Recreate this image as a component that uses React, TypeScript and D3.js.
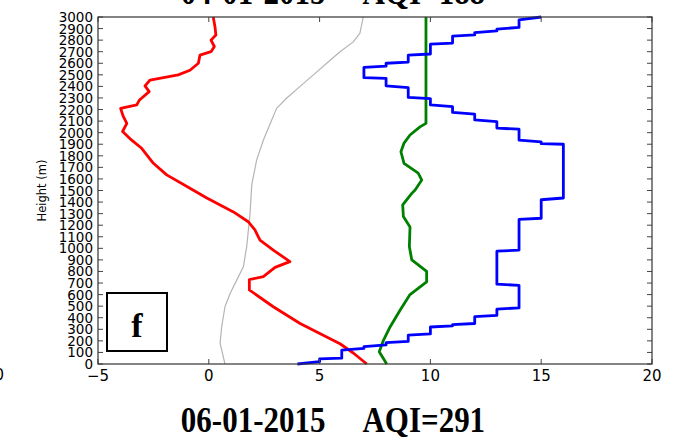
import React, { useRef, useEffect } from 'react';
import * as d3 from 'd3';

// profiles: [value, height (m)]
const redProfile: [number, number][] = [
  [0.2, 3000], [0.28, 2915], [0.32, 2845], [0.1, 2800], [0.25, 2745], [0.1, 2700],
  [-0.4, 2670], [-0.47, 2600], [-0.85, 2540], [-1.38, 2500], [-2.65, 2455], [-2.88, 2405],
  [-2.69, 2355], [-3.14, 2280], [-3.25, 2240], [-3.98, 2210], [-3.86, 2140], [-3.7, 2080],
  [-3.89, 2010], [-3.48, 1935], [-3.03, 1865], [-2.5, 1735], [-1.9, 1635], [-0.85, 1520],
  [-0.09, 1435], [1.11, 1315], [1.78, 1230], [2.08, 1160], [2.31, 1070], [2.91, 985],
  [3.66, 885], [2.99, 835], [2.46, 755], [1.83, 730], [1.83, 640], [2.91, 495],
  [4.12, 350], [5.92, 175], [6.52, 95], [7.13, 0],
];

const grayProfile: [number, number][] = [
  [6.97, 3000], [6.82, 2860], [6.52, 2785], [5.92, 2700], [5.32, 2600], [4.72, 2500],
  [4.12, 2400], [3.52, 2300], [3.06, 2210], [2.84, 2110], [2.46, 1935], [2.16, 1765],
  [1.94, 1550], [1.86, 1300], [1.71, 1015], [1.56, 840], [1.26, 725], [0.96, 610],
  [0.73, 495], [0.58, 320], [0.51, 180], [0.73, 0],
];

const greenProfile: [number, number][] = [
  [9.8, 3000], [9.8, 2080], [9.53, 2050], [9.08, 1980], [8.81, 1910], [8.67, 1835],
  [8.81, 1735], [9.45, 1650], [9.61, 1590], [9.31, 1505], [9.16, 1475], [8.75, 1375],
  [8.78, 1275], [9.08, 1185], [9.05, 1015], [9.16, 900], [9.83, 800], [9.83, 710],
  [9.08, 600], [8.63, 465], [8.18, 320], [7.88, 205], [7.69, 105], [8.03, 0],
];

const blueProfile: [number, number][] = [
  [15, 3000], [14, 2975], [14, 2910], [13, 2895], [13, 2880], [12, 2865], [12, 2845],
  [11, 2835], [11, 2775], [10, 2765], [10, 2680], [9, 2670], [9, 2610], [8, 2600],
  [8, 2575], [7, 2565], [7, 2475], [8, 2470], [8, 2405], [9, 2390], [9, 2305],
  [10, 2295], [10, 2240], [11, 2225], [11, 2175], [12, 2160], [12, 2110], [13, 2095],
  [13, 2040], [14, 2030], [14, 1935], [15, 1920], [15, 1905], [16, 1900], [16, 1435],
  [15, 1420], [15, 1260], [14, 1250], [14, 985], [13, 975], [13, 690], [14, 680],
  [14, 485], [13, 475], [13, 420], [12, 410], [12, 350], [11, 340], [11, 330],
  [10, 320], [10, 260], [9, 250], [9, 195], [8, 185], [8, 165], [7, 150], [7, 135],
  [6, 120], [6, 50], [5, 45], [5, 20], [4, 0],
];

const xTicks = [-5, 0, 5, 10, 15, 20];
const yTicks = d3.range(0, 3001, 100);

const WIDTH = 674;
const HEIGHT = 440;
const margin = { top: 17, right: 22, bottom: 76, left: 98 };

const App: React.FC = () => {
  const ref = useRef<SVGSVGElement | null>(null);

  useEffect(() => {
    if (!ref.current) return;
    const svg = d3.select(ref.current);
    svg.selectAll('*').remove();

    const x = d3.scaleLinear().domain([-5, 20]).range([margin.left, WIDTH - margin.right]);
    const y = d3.scaleLinear().domain([0, 3000]).range([HEIGHT - margin.bottom, margin.top]);
    const [x0, x1] = x.range();
    const [y0, y1] = y.range();

    const line = d3
      .line<[number, number]>()
      .x((d) => x(d[0]))
      .y((d) => y(d[1]));

    const series: { data: [number, number][]; color: string; width: number }[] = [
      { data: grayProfile, color: '#b4b4b4', width: 1.2 },
      { data: redProfile, color: '#ff0000', width: 2.8 },
      { data: greenProfile, color: '#008000', width: 2.8 },
      { data: blueProfile, color: '#0000ff', width: 2.8 },
    ];
    series.forEach((s) => {
      svg
        .append('path')
        .datum(s.data)
        .attr('fill', 'none')
        .attr('stroke', s.color)
        .attr('stroke-width', s.width)
        .attr('stroke-linejoin', 'round')
        .attr('d', line);
    });

    // inward ticks on all four sides
    const tickColor = '#444';
    const tl = 5;
    const ticks = svg.append('g').attr('stroke', tickColor).attr('stroke-width', 1);
    xTicks.forEach((t) => {
      ticks.append('line').attr('x1', x(t)).attr('x2', x(t)).attr('y1', y0).attr('y2', y0 - tl);
      ticks.append('line').attr('x1', x(t)).attr('x2', x(t)).attr('y1', y1).attr('y2', y1 + tl);
    });
    yTicks.forEach((t) => {
      ticks.append('line').attr('x1', x0).attr('x2', x0 + tl).attr('y1', y(t)).attr('y2', y(t));
      ticks.append('line').attr('x1', x1).attr('x2', x1 - tl).attr('y1', y(t)).attr('y2', y(t));
    });

    svg
      .append('rect')
      .attr('x', x0)
      .attr('y', y1)
      .attr('width', x1 - x0)
      .attr('height', y0 - y1)
      .attr('fill', 'none')
      .attr('stroke', '#333')
      .attr('stroke-width', 1.2);

    const sans = "'DejaVu Sans', sans-serif";
    svg
      .append('g')
      .selectAll('text')
      .data(yTicks)
      .join('text')
      .attr('x', x0 - 5)
      .attr('y', (d) => y(d) + 5)
      .attr('text-anchor', 'end')
      .attr('font-family', sans)
      .attr('font-size', 13.5)
      .attr('fill', '#000')
      .text((d) => String(d));

    svg
      .append('g')
      .selectAll('text')
      .data(xTicks)
      .join('text')
      .attr('x', (d) => x(d))
      .attr('y', y0 + 17)
      .attr('text-anchor', 'middle')
      .attr('font-family', sans)
      .attr('font-size', 15)
      .attr('fill', '#000')
      .text((d) => (d < 0 ? `\u2212${-d}` : String(d)));

    svg
      .append('text')
      .attr('transform', `translate(46,${(y0 + y1) / 2}) rotate(-90)`)
      .attr('text-anchor', 'middle')
      .attr('font-family', sans)
      .attr('font-size', 11.5)
      .text('Height (m)');

    // stray label from the neighbouring panel
    svg
      .append('text')
      .attr('x', 4)
      .attr('y', y0 + 16)
      .attr('text-anchor', 'end')
      .attr('font-family', sans)
      .attr('font-size', 15)
      .text('20');

    // panel label box
    svg
      .append('rect')
      .attr('x', x0 + 9)
      .attr('y', 293)
      .attr('width', 60)
      .attr('height', 58)
      .attr('fill', '#fff')
      .attr('stroke', '#000')
      .attr('stroke-width', 2);
    svg
      .append('text')
      .attr('x', x0 + 39)
      .attr('y', 337)
      .attr('text-anchor', 'middle')
      .attr('font-family', "'Liberation Serif', serif")
      .attr('font-weight', 'bold')
      .attr('font-size', 34)
      .text('f');

    const titleFont = "'Liberation Serif', 'Times New Roman', serif";
    const addTitle = (txt: string, baseline: number) => {
      svg
        .append('text')
        .attr('transform', `translate(333,${baseline}) scale(1,1.17)`)
        .attr('text-anchor', 'middle')
        .attr('font-family', titleFont)
        .attr('font-weight', 'bold')
        .attr('font-size', 31)
        .attr('xml:space', 'preserve')
        .style('white-space', 'pre')
        .text(txt);
    };
    addTitle('06-01-2015     AQI=291', 432);
    addTitle('04-01-2015     AQI=188', 4);
  }, []);

  return (
    <svg
      ref={ref}
      width={WIDTH}
      height={HEIGHT}
      style={{ position: 'absolute', left: 0, top: 0, background: '#fff' }}
    />
  );
};

export default App;
